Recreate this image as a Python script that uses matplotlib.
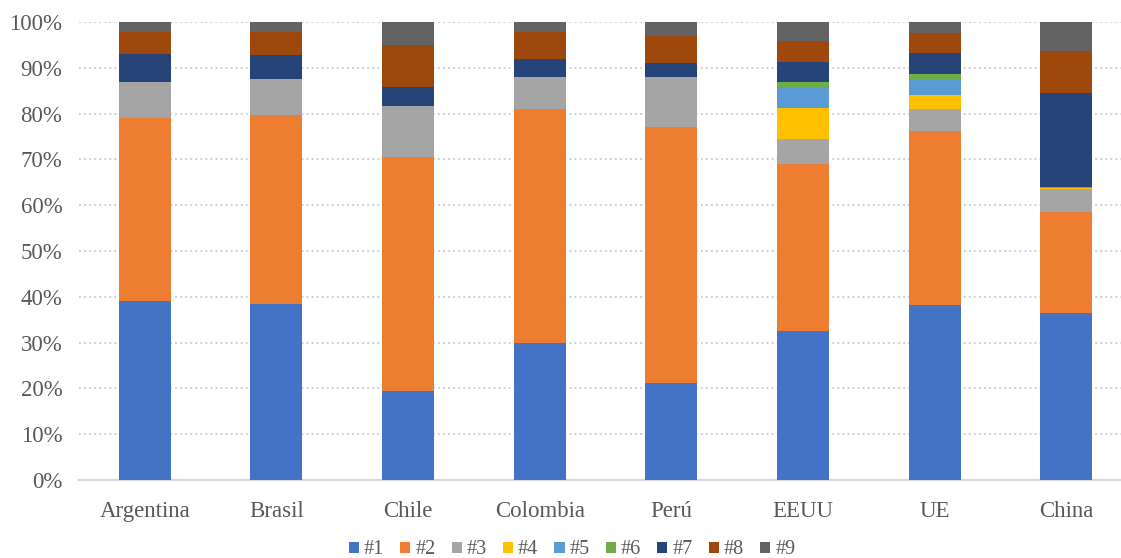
import matplotlib
matplotlib.use("Agg")
import matplotlib.pyplot as plt
import numpy as np
from matplotlib.ticker import PercentFormatter

categories = ["Argentina", "Brasil", "Chile", "Colombia", "Perú", "EEUU", "UE", "China"]
series_names = ["#1", "#2", "#3", "#4", "#5", "#6", "#7", "#8", "#9"]
s1 = [39.1, 38.4, 19.4, 29.9, 21.2, 32.5, 38.2, 36.5]
s2 = [39.9, 41.4, 51.2, 51.1, 55.9, 36.5, 38.0, 22.1]
s3 = [7.8, 7.8, 11.1, 6.9, 10.8, 5.5, 4.7, 4.9]
s4 = [0.0, 0.0, 0.0, 0.0, 0.0, 6.8, 3.2, 0.3]
s5 = [0.0, 0.0, 0.0, 0.0, 0.0, 4.4, 3.4, 0.2]
s6 = [0.0, 0.0, 0.0, 0.0, 0.0, 1.2, 1.1, 0.0]
s7 = [6.2, 5.1, 4.0, 4.0, 3.1, 4.4, 4.7, 20.6]
s8 = [4.8, 5.1, 9.3, 5.9, 6.0, 4.6, 4.2, 9.0]
s9 = [2.2, 2.2, 5.0, 2.2, 3.0, 4.1, 2.5, 6.3]
colors = ["#4472C4", "#ED7D31", "#A5A5A5", "#FFC000", "#5B9BD5",
          "#70AD47", "#264478", "#9E480E", "#636363"]

series = [s1, s2, s3, s4, s5, s6, s7, s8, s9]

plt.rcParams['font.family'] = ['Liberation Serif', 'DejaVu Serif']

fig = plt.figure(figsize=(11.21, 5.58), dpi=100)
ax = fig.add_axes([79/1121, (558-480)/558, (1132-79)/1121, (480-22)/558])

x = np.arange(len(categories))
bottom = np.zeros(len(categories))
for name, vals, c in zip(series_names, series, colors):
    v = np.array(vals)
    ax.bar(x, v, 0.395, bottom=bottom, color=c, label=name, zorder=3)
    bottom += v

ax.set_xlim(-0.5, 7.5)
ax.set_ylim(0, 100)
ax.set_yticks(np.arange(0, 101, 10))
ax.yaxis.set_major_formatter(PercentFormatter(decimals=0))
ax.set_xticks(x)
ax.set_xticklabels(categories)
ax.tick_params(axis='both', length=0, labelsize=16.5, colors='#595959')
ax.tick_params(axis='y', pad=12)
ax.tick_params(axis='x', pad=15)
ax.grid(axis='y', linestyle=(0, (1, 1.6)), color='#D0D0D0', linewidth=1.4, zorder=0)
for sp in ['top', 'right', 'left']:
    ax.spines[sp].set_visible(False)
ax.spines['bottom'].set_color('#D9D9D9')
ax.spines['bottom'].set_linewidth(1.6)

leg = fig.legend(loc='center', bbox_to_anchor=(572/1121, 1 - 550/558), ncol=9,
                 frameon=False, fontsize=14.5, handlelength=0.5, handleheight=0.5,
                 handletextpad=0.25, columnspacing=0.8, borderaxespad=0)
for t in leg.get_texts():
    t.set_color('#595959')

fig.savefig("out.png", dpi=100)
